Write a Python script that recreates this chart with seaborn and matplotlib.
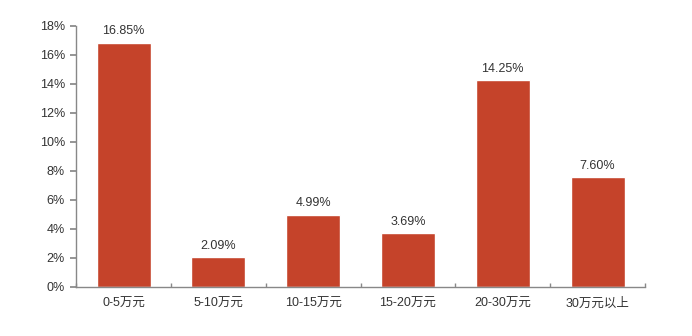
import matplotlib
matplotlib.use("Agg")
import matplotlib.pyplot as plt
import seaborn as sns
import pandas as pd
import numpy as np
from matplotlib.ticker import FixedLocator

categories = ["0-5万元", "5-10万元", "10-15万元", "15-20万元", "20-30万元", "30万元以上"]
values = [16.85, 2.09, 4.99, 3.69, 14.25, 7.60]
labels = ["16.85%", "2.09%", "4.99%", "3.69%", "14.25%", "7.60%"]
yticks = [0, 2, 4, 6, 8, 10, 12, 14, 16, 18]

sns.set_theme(style="white")
plt.rcParams['font.family'] = ['Liberation Sans', 'Noto Sans CJK SC', 'DejaVu Sans']

df = pd.DataFrame({"cat": categories, "val": values})

fig = plt.figure(figsize=(6.92, 3.36), dpi=100)
ax = fig.add_axes([0.110, 0.146, 0.822, 0.777])
sns.barplot(data=df, x="cat", y="val", color="#C5432A", saturation=1, width=0.57, ax=ax)

ax.set_ylim(0, 18)
ax.set_xlim(-0.5, len(categories) - 0.5)
ax.set_yticks(yticks)
ax.set_yticklabels([f"{t}%" for t in yticks])
ax.set_xlabel("")
ax.set_ylabel("")

for i, (v, lab) in enumerate(zip(values, labels)):
    ax.text(i, v + 0.35, lab, ha="center", va="bottom", fontsize=9, color="#333333")

for s in ["top", "right"]:
    ax.spines[s].set_visible(False)
for s in ["left", "bottom"]:
    ax.spines[s].set_color("#888888")
    ax.spines[s].set_linewidth(1.0)

ax.tick_params(axis="y", which="major", direction="out", length=4, color="#888888",
               labelsize=9, labelcolor="#333333", pad=4, left=True)
ax.tick_params(axis="x", which="major", length=0, labelsize=9, labelcolor="#333333", pad=8)
ax.xaxis.set_minor_locator(FixedLocator(np.arange(-0.5, len(categories), 1.0)))
ax.tick_params(axis="x", which="minor", direction="in", length=3, color="#888888", bottom=True)

fig.savefig("out.png", dpi=100)
